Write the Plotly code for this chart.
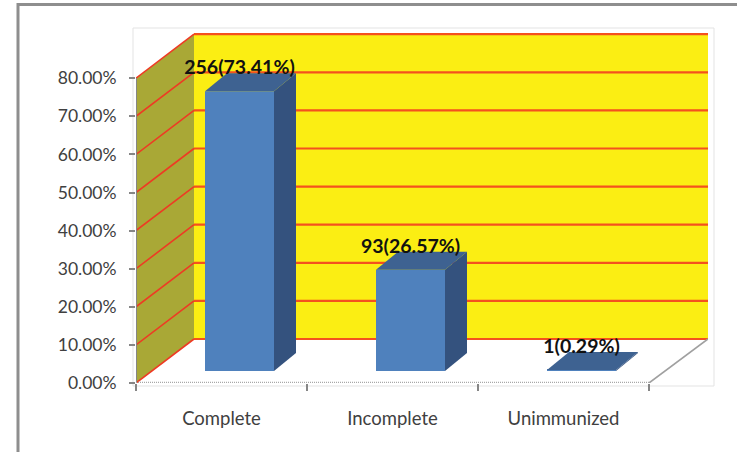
import plotly.graph_objects as go

categories = ["Complete", "Incomplete", "Unimmunized"]
counts = [256, 93, 1]
percents = [73.41, 26.57, 0.29]
y_ticks = [0, 10, 20, 30, 40, 50, 60, 70, 80]
y_tick_labels = ["0.00%", "10.00%", "20.00%", "30.00%", "40.00%", "50.00%", "60.00%", "70.00%", "80.00%"]

W, H = 737, 452
L, R, T, B = 136, 708, 28, 383
PX_X = 171.0   # px per category
PX_Y = 3.81    # px per percent
x0 = -0.5
x_end = x0 + (R - L) / PX_X
y_end = (B - T) / PX_Y

wall_dx, wall_dy = 58 / PX_X, 44 / PX_Y
bar_dx, bar_dy = 18 / PX_X, 12 / PX_Y
side_dx, side_dy = 22 / PX_X, 18 / PX_Y
bar_w = 69 / PX_X
x_right = x0 + len(categories)

FRONT, SIDE, TOP = "#4F81BD", "#34527E", "#3E6291"
YELLOW, OLIVE = "#FBEE13", "#A9A836"
GREY = "#868686"


def poly(xs, ys):
    return "M" + " L".join(f"{a},{b}" for a, b in zip(xs, ys)) + " Z"


shapes = []
# chart-area hairline and outer frame
shapes.append(dict(type="rect", xref="paper", yref="paper",
                   x0=-3 / (R - L), x1=1 + 6 / (R - L), y0=-3 / (B - T), y1=1,
                   line=dict(color="#E3E3E3", width=1), layer="below"))
shapes.append(dict(type="path", xref="paper", yref="paper",
                   path=f"M{(18 - L) / (R - L)},{(B - 452) / (B - T)} "
                        f"L{(18 - L) / (R - L)},{(B - 4.5) / (B - T)} "
                        f"L{(737 - L) / (R - L)},{(B - 4.5) / (B - T)}",
                   line=dict(color="#8E8E8E", width=3), layer="below"))
# walls
top_val = y_ticks[-1]
shapes.append(dict(type="path", layer="below", line=dict(width=0), fillcolor=YELLOW,
                   path=poly([x0 + wall_dx, x_end, x_end, x0 + wall_dx],
                             [wall_dy, wall_dy, wall_dy + top_val, wall_dy + top_val])))
shapes.append(dict(type="path", layer="below", line=dict(width=0), fillcolor=OLIVE,
                   path=poly([x0, x0 + wall_dx, x0 + wall_dx, x0],
                             [0, wall_dy, wall_dy + top_val, top_val])))
# gridlines
for v in y_ticks:
    shapes.append(dict(type="line", layer="below", x0=x0 + wall_dx, x1=x_end,
                       y0=v + wall_dy, y1=v + wall_dy,
                       line=dict(color="#F4511E", width=2.2)))
    shapes.append(dict(type="line", layer="below", x0=x0, x1=x0 + wall_dx,
                       y0=v, y1=v + wall_dy,
                       line=dict(color="#EE3A24", width=1.6)))
# axes
shapes.append(dict(type="line", layer="below", x0=x0, x1=x0, y0=0, y1=top_val,
                   line=dict(color=GREY, width=2)))
shapes.append(dict(type="line", layer="below", x0=x0, x1=x_right, y0=0, y1=0,
                   line=dict(color="#A8A8A8", width=2.5, dash="1px,1px")))
shapes.append(dict(type="line", layer="below", x0=x_right, x1=x_end, y0=0, y1=wall_dy,
                   line=dict(color="#A0A0A0", width=1.6)))

fig = go.Figure()
xs = [i + bar_dx for i in range(len(categories))]

fig.add_trace(go.Bar(x=xs, y=percents, base=bar_dy, width=bar_w,
                     marker=dict(color=FRONT, line=dict(width=0)),
                     hoverinfo="skip", showlegend=False))

for x, v in zip(xs, percents):
    xl, xr = x - bar_w / 2, x + bar_w / 2
    b, t = bar_dy, bar_dy + v
    fig.add_trace(go.Scatter(
        x=[xr, xr + side_dx, xr + side_dx, xr, xr],
        y=[b, b + side_dy, t + side_dy, t, b],
        mode="lines", fill="toself", fillcolor=SIDE, line=dict(width=0),
        hoverinfo="skip", showlegend=False))
    fig.add_trace(go.Scatter(
        x=[xl, xr, xr + side_dx, xl + side_dx, xl],
        y=[t, t, t + side_dy, t + side_dy, t],
        mode="lines", fill="toself", fillcolor=TOP, line=dict(width=0),
        hoverinfo="skip", showlegend=False))

labels = [f"{c}({p:.2f}%)" for c, p in zip(counts, percents)]
fig.add_trace(go.Scatter(
    x=xs,
    y=[bar_dy + p + side_dy - 1.5 for p in percents],
    mode="text", text=labels, textposition="top center",
    textfont=dict(family="Lato", size=19.5, color="#111111", weight="bold"),
    hoverinfo="skip", showlegend=False, cliponaxis=False))

fig.update_layout(
    width=W, height=H,
    margin=dict(l=L, r=W - R, t=T, b=H - B, pad=0),
    paper_bgcolor="white", plot_bgcolor="rgba(0,0,0,0)",
    font=dict(family="Lato", size=17.5, color="#404040"),
    shapes=shapes, showlegend=False,
    xaxis=dict(range=[x0, x_end], tickmode="array",
               tickvals=list(range(len(categories))), ticktext=categories,
               ticks="", showgrid=False, zeroline=False, showline=False,
               tickfont=dict(size=18.5), ticklabelstandoff=22,
               minor=dict(tickmode="array",
                          tickvals=[x0 + i for i in range(len(categories) + 1)],
                          ticks="outside", ticklen=7, tickwidth=2, tickcolor=GREY,
                          showgrid=False)),
    yaxis=dict(range=[0, y_end], tickmode="array", tickvals=y_ticks,
               ticktext=y_tick_labels, ticks="outside", ticklen=6,
               tickwidth=2, tickcolor=GREY, showgrid=False, zeroline=False,
               showline=False, ticklabelstandoff=9),
)
fig.write_html("out.html", config=dict(displayModeBar=False),
               post_script="document.body.style.margin='0';document.body.style.overflow='hidden';")
